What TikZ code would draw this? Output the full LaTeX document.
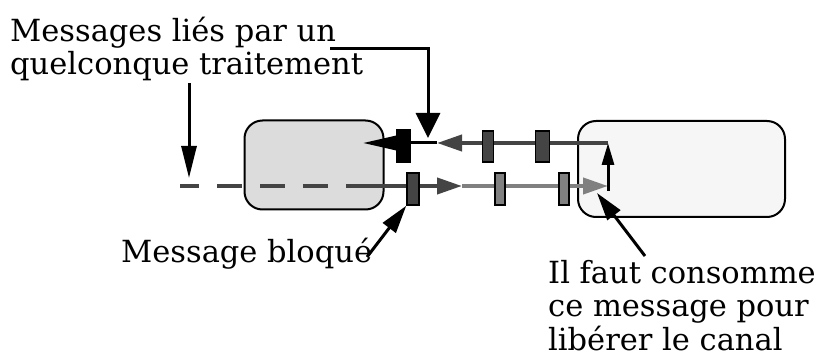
\documentclass[tikz,border=0pt]{standalone}
\usepackage{fontspec}
\setmainfont{DejaVu Serif}
\usetikzlibrary{arrows.meta}
\definecolor{chandark}{HTML}{444444}
\definecolor{chanlight}{HTML}{808080}
\definecolor{boxgray}{HTML}{DCDCDC}
\definecolor{boxpale}{HTML}{F6F6F6}
\tikzset{
  proc/.style={rectangle,rounded corners=18pt,draw=black,line width=2pt,fill=#1,
    inner sep=0pt,minimum width=139pt,minimum height=89pt},
  proc/.default=boxgray,
  msg/.style={rectangle,draw=black,line width=1.5pt,fill=#1,inner sep=0pt,
    minimum width=11pt,minimum height=31pt},
  msg/.default=chandark,
  chan/.style={-{Triangle[length=25pt,width=16pt]},line width=4pt,draw=#1},
  chan/.default=chandark,
  pointer/.style={-{Triangle[length=28pt,width=16pt]},line width=3pt,draw=black},
  txt/.style={anchor=base west,inner sep=0pt,font=\fontsize{30.5}{33.5}\selectfont,align=left}
}

\begin{document}
\begin{tikzpicture}[x=1pt,y=-1pt]
\useasboundingbox (0,0) rectangle (833,358);
% the two processes
\node[proc=boxgray] (left) at (314,165) {};
\node[proc=boxpale,minimum width=207pt,minimum height=96pt] (right) at (681.5,169) {};
% channel end points
\coordinate (upR) at (608,143);
\coordinate (upM) at (437,143);
\coordinate (upL) at (363,143);
\coordinate (lowD) at (180,186);
\coordinate (lowS) at (360,186);
\coordinate (lowM) at (462,186);
\coordinate (lowR) at (608,186);
\coordinate (turn) at (608,191);
% the channels
\draw[chandark,line width=4pt,dash pattern=on 25pt off 18pt,dash phase=6pt] (lowD) -- (373,186);
\draw[chan=chandark] (lowS) -- (lowM);
\draw[chan=chanlight] (lowM) -- (lowR);
\draw[chan=chandark] (upR) -- (upM);
\draw[pointer,-{Triangle[length=33pt,width=14pt]}] (upM) -- (upL);
\draw[line width=3pt,-{Triangle[length=22pt,width=12pt]}] (turn) -- (upR);
% messages in transit
\node[msg=black,minimum width=13pt,minimum height=32pt] (blk) at (403.5,146) {};
\node[msg] (up1) at (488,146.5) {};
\node[msg,minimum width=14pt] (up2) at (542.5,146.5) {};
\node[msg,minimum width=12pt,minimum height=32pt] (stuck) at (413,189) {};
\node[msg=chanlight,minimum width=10pt,minimum height=32pt] (low1) at (500,189) {};
\node[msg=chanlight,minimum width=10pt,minimum height=32pt] (low2) at (564,189) {};
% texts (base = last line)
\node[txt] (linked) at (10,75) {Messages liés par un\\quelconque traitement};
\node[txt] (blocked) at (121,262) {Message bloqué};
\node[txt] (consume) at (548,350) {Il faut consomme\\ce message pour\\libérer le canal};
% pointers
\coordinate (unEnd) at (330,49);
\coordinate (queEnd) at (189,83);
\coordinate (bloEnd) at (367,257);
\coordinate (conEnd) at (645,256);
\draw[pointer,-{Triangle[length=25pt,width=24pt]}] (unEnd) -| (428,138);
\draw[pointer,-{Triangle[length=32pt,width=15pt]}] (queEnd) -- (189,178);
\draw[pointer] (bloEnd) -- (stuck.south west);
\draw[pointer] (conEnd) -- (597,193);
\end{tikzpicture}
\end{document}
